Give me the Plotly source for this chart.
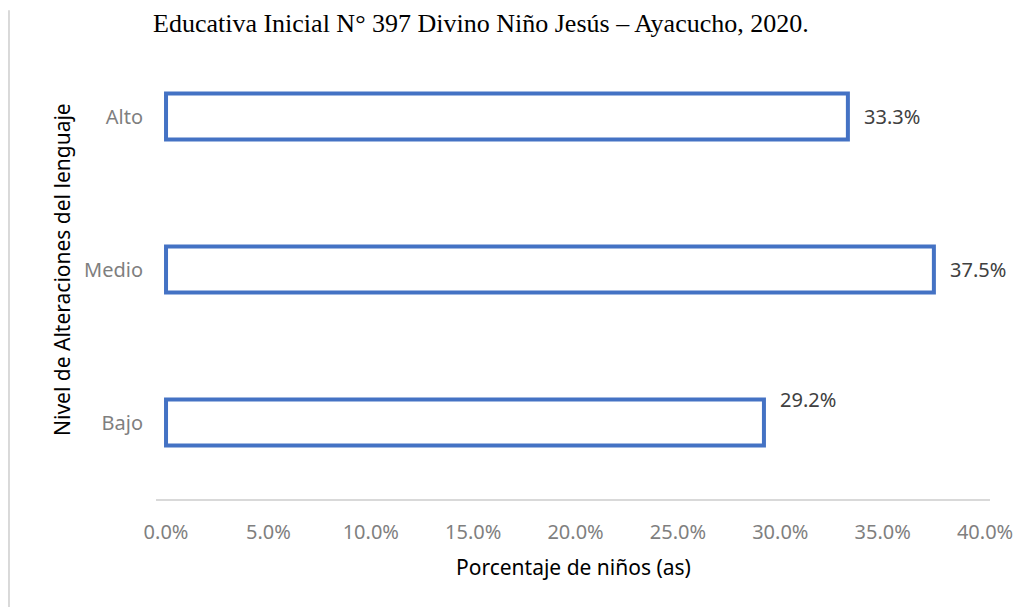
import plotly.graph_objects as go

# Data
niveles = ["Bajo", "Medio", "Alto"]
porcentajes = [0.292, 0.375, 0.333]
etiquetas = ["29.2%", "37.5%", "33.3%"]

BLUE = "#4472C4"
GREY = "#7f7f7f"
FONT = "Noto Sans"

fig = go.Figure(go.Bar(
    x=porcentajes, y=niveles, orientation="h",
    width=0.3,
    marker=dict(color="white", line=dict(color=BLUE, width=4)),
    hoverinfo="skip",
))

# Data labels (Excel put the "Bajo" label above the bar end)
for nivel, v, t in zip(niveles, porcentajes, etiquetas):
    dy = 23 if nivel == "Bajo" else 0
    fig.add_annotation(x=v, y=nivel, text=t, showarrow=False,
                       xanchor="left", yanchor="middle", xshift=14, yshift=dy,
                       font=dict(family=FONT, size=20, color="#404040"))

# Title (cropped at the top in the source, kept whole here)
fig.add_annotation(
    text="Educativa Inicial N° 397 Divino Niño Jesús – Ayacucho, 2020.",
    xref="paper", yref="paper", x=0.39, y=1.035, showarrow=False,
    xanchor="center", yanchor="middle",
    font=dict(family="Liberation Serif", size=26, color="black"),
)

# Axis titles
fig.add_annotation(
    text="Nivel de Alteraciones del lenguaje", textangle=-90,
    xref="paper", yref="paper", x=-0.1127, y=0.499, showarrow=False,
    xanchor="center", yanchor="middle",
    font=dict(family=FONT, size=21, color="black"),
)
fig.add_annotation(
    text="Porcentaje de niños (as)",
    xref="paper", yref="paper", x=0.5, y=-0.148, showarrow=False,
    xanchor="center", yanchor="middle",
    font=dict(family=FONT, size=21, color="black"),
)

# Left page border line
fig.add_shape(type="line", xref="paper", yref="paper",
              x0=-0.1763, x1=-0.1763, y0=1.065, y1=-0.26,
              line=dict(color="#d9d9d9", width=2))

fig.update_xaxes(
    range=[-0.0049, 0.4024],
    tickvals=[0, 0.05, 0.1, 0.15, 0.2, 0.25, 0.3, 0.35, 0.4],
    tickformat=".1%",
    showgrid=False, zeroline=False,
    showline=True, linecolor="#d9d9d9", linewidth=2,
    ticks="", ticklabelstandoff=14,
    tickfont=dict(family=FONT, size=20, color=GREY),
)
fig.update_yaxes(
    range=[-0.5, 2.5],
    showgrid=False, zeroline=False, showline=False,
    ticks="", ticklabelstandoff=12,
    tickfont=dict(family=FONT, size=20, color=GREY),
)

fig.update_layout(
    width=1031, height=607,
    margin=dict(l=148, r=49, t=32, b=116),
    plot_bgcolor="white", paper_bgcolor="white",
    showlegend=False,
)

fig.write_html("out.html")
